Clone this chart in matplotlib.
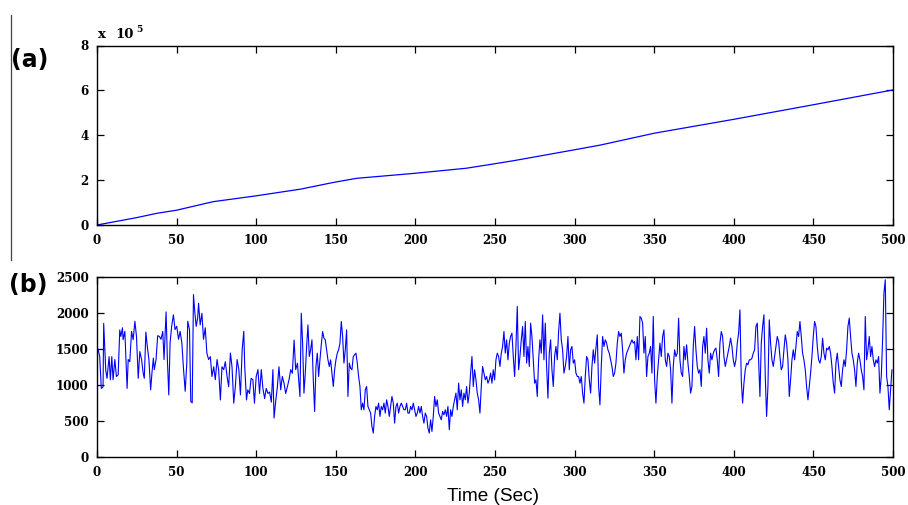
import matplotlib
matplotlib.use("Agg")
import matplotlib.pyplot as plt
from matplotlib.lines import Line2D
import numpy as np

# ---------------- data ----------------
# (a) cumulative curve, read at anchor times
top_time = [0, 25, 37.5, 50, 73, 100, 128, 148, 163, 199, 232, 249, 262, 299, 316,
            350, 400, 450, 500]
top_value = [0, 0.33e5, 0.52e5, 0.66e5, 1.04e5, 1.30e5, 1.60e5, 1.89e5, 2.08e5,
             2.30e5, 2.53e5, 2.72e5, 2.87e5, 3.34e5, 3.56e5, 4.09e5, 4.71e5,
             5.36e5, 6.02e5]

# (b) signal, first part (read at irregular times)
sig_time_a = [0.0, 0.6, 1.7, 2.7, 3.8, 4.2, 5.5, 6.3, 7.6, 8.4,
              9.3, 10.1, 11.2, 12.2, 13.3, 14.3, 15.0, 16.0, 16.4, 17.5,
              18.1, 18.9, 19.6, 20.6, 21.7, 22.7, 23.8, 24.8, 25.9, 26.9,
              28.0, 29.0, 29.7, 30.7, 31.6, 32.6, 33.7, 34.5, 35.4, 36.0,
              37.1, 38.1, 39.2, 40.2, 41.3, 42.1, 43.4, 44.2, 45.1, 45.9,
              46.9, 48.0, 49.0, 50.1, 51.2, 52.2, 53.3, 54.3, 55.4, 56.4,
              57.0, 58.1, 58.9, 59.8, 60.6, 61.5, 62.3, 63.2, 63.8, 64.8,
              65.9, 66.9, 68.0, 69.0, 70.1, 71.2, 72.2, 73.3, 74.3, 75.4,
              76.4, 77.5, 78.5, 79.6, 80.6, 81.7, 82.7, 83.8, 84.8, 85.9,
              86.9, 88.0, 89.1, 90.1, 91.2, 92.2, 92.8, 93.9, 94.7, 95.8,
              96.8, 97.9, 98.9, 100.0, 101.1, 102.1, 103.2, 104.2, 105.3, 106.3,
              107.4, 108.4, 109.5, 110.5, 111.2, 112.2, 113.3, 114.3, 115.4, 116.4,
              117.5, 118.5, 119.6, 120.6, 121.7, 122.7, 123.8, 124.8, 125.9, 126.9]
sig_value_a = [1400, 1500, 1390, 950, 970, 1850, 1200, 1090, 1390, 1070,
               1390, 1070, 1350, 1115, 1140, 1760, 1670, 1790, 1625, 1740,
               1390, 950, 1350, 1320, 1740, 1625, 1880, 1670, 1090, 1460,
               1350, 1160, 1090, 1730, 1530, 1350, 930, 1160, 1370, 1210,
               1350, 1680, 1670, 1630, 1740, 1350, 2010, 1350, 860, 1580,
               1810, 1970, 1765, 1810, 1630, 1740, 1580, 1230, 910, 1300,
               1880, 1765, 770, 750, 2250, 1990, 1810, 1920, 2130, 1830,
               1990, 1630, 1790, 1440, 1350, 1390, 1115, 1250, 1070, 1350,
               1210, 790, 1250, 1210, 1320, 1115, 975, 1440, 1250, 745,
               975, 1350, 1210, 860, 1490, 1740, 1250, 790, 930, 880,
               1090, 1070, 745, 1115, 1210, 880, 1210, 950, 810, 950,
               880, 900, 760, 1210, 540, 760, 975, 1250, 930, 1115,
               1020, 880, 975, 1070, 1210, 1160, 1620, 1210, 1300, 1020]

# (b) signal, remaining part (read at a regular step from t = 127.48 s)
sig_start_b = 127.48
sig_step_b = 0.8375
sig_value_b = [
    838, 1992, 1577, 885, 1162, 1531, 1830, 1392, 1485, 1623,
    1069, 631, 1254, 1438, 1115, 1346, 1554, 1738, 1646, 1623,
    1485, 1346, 1254, 1346, 1162, 977, 1208, 1346, 1438, 1485,
    1577, 1877, 1669, 1300, 1485, 1761, 838, 1300, 1231, 1208,
    1392, 1415, 1438, 1300, 1115, 977, 654, 746, 654, 931,
    977, 700, 654, 608, 423, 331, 562, 700, 654, 746,
    562, 700, 654, 746, 608, 792, 700, 562, 700, 838,
    746, 469, 700, 746, 608, 700, 746, 700, 654, 654,
    746, 608, 608, 700, 654, 746, 654, 562, 608, 700,
    608, 700, 562, 469, 608, 562, 400, 331, 515, 354,
    562, 838, 700, 792, 608, 562, 515, 631, 585, 654,
    562, 700, 377, 654, 562, 700, 792, 885, 654, 1023,
    792, 931, 700, 885, 792, 977, 746, 885, 1162, 1392,
    977, 1208, 1069, 885, 792, 608, 977, 1254, 1162, 1069,
    1115, 1023, 1069, 1162, 1023, 1208, 1069, 1346, 1438,
    1392, 1254, 1438, 1531, 1738, 1438, 1623, 1346, 1577, 1669,
    1715, 1392, 1115, 1531, 2085, 1208, 1392, 1623, 1808, 1392,
    1877, 1300, 1531, 1254, 1854, 1669, 1346, 1023, 1069, 838,
    1346, 1623, 1438, 1969, 1346, 1854, 1254, 815, 1438, 1623,
    1208, 977, 1392, 1531, 1346, 1738, 1992, 1623, 1485, 1162,
    1254, 1392, 1669, 1208, 1485, 1531, 1300, 1346, 1162, 1115,
    1115, 1023, 1115, 885, 746, 1115, 1392, 1346, 1069, 885,
    1254, 1485, 1300, 1508, 1692, 977, 723, 1254, 1669, 1531,
    1623, 1577, 1485, 1438, 1346, 1254, 1115, 1162, 1300, 1577,
    1738, 1669, 1715, 1485, 1162, 1346, 1438, 1485, 1531, 1577,
    1623, 1577, 1600, 1346, 1669, 1346, 1946, 1923, 1854, 1438,
    1669, 1115, 1392, 1438, 1531, 1162, 1946, 1069, 746, 1115,
    1346, 1577, 1392, 1669, 1761, 1346, 1254, 1438, 1392, 1208,
    746, 1254, 1485, 1392, 1438, 1923, 1346, 1162, 1115, 1531,
    1346, 1554, 1300, 1115, 885, 977, 1531, 1808, 1485, 1254,
    1162,
    1208, 977, 1531, 1669, 1438, 1784, 1346, 1162, 1438, 1346,
    1438, 1485, 1508, 1346, 1115, 1577, 1738, 1669, 1392, 1254,
    1346, 1438, 1531, 1646, 1531, 1346, 1254, 1346, 1577, 1715,
    2038, 1069, 746, 1023, 1208, 1300, 1277, 1346, 1346, 1369,
    1438, 1485, 1808, 1854, 1346, 838, 1577, 1808, 1969, 1115,
    562, 977, 1900, 1577, 1346, 1254, 1392, 1531, 1669, 1600,
    1392, 1208, 1254, 1485, 1692, 1577, 1346, 838, 1069, 1346,
    1485, 1346, 1531, 1738, 1669, 1877, 1669, 1438, 1346, 1208,
    977, 792, 977, 1162, 1392, 1669, 1877, 1808, 1531, 1346,
    1300, 1392, 1646, 1438, 1346, 1508, 1485, 1531, 1438, 1254,
    1023, 885, 1300, 1438, 1254, 1069, 977, 1208, 1346, 1254,
    1485, 1808, 1923, 1669, 1438, 1346, 1208, 977, 1300, 1438,
    1346, 1208, 1115, 931, 1946, 1346, 1485, 1669, 1392, 1531,
    1346, 1254, 1346, 1300, 1392, 885, 1115, 1623, 2269, 2454,
    1115, 977, 654, 931, 1208]

x_ticks = [0, 50, 100, 150, 200, 250, 300, 350, 400, 450, 500]
top_y_ticks = [0, 2, 4, 6, 8]
bot_y_ticks = [0, 500, 1000, 1500, 2000, 2500]
x_label = "Time (Sec)"

# ---------------- figure ----------------
sig_time = np.concatenate([np.array(sig_time_a),
                           sig_start_b + sig_step_b * np.arange(len(sig_value_b))])
sig_value = np.concatenate([np.array(sig_value_a), np.array(sig_value_b)])

W, H = 908, 505
fig = plt.figure(figsize=(W / 100, H / 100), dpi=100)

def fx(px):
    return px / W

def fy(py):
    return 1 - py / H

ax1 = fig.add_axes([fx(97), fy(225), fx(893) - fx(97), fy(45.5) - fy(225)])
ax2 = fig.add_axes([fx(97), fy(457), fx(893) - fx(97), fy(276.5) - fy(457)])

tick_font = dict(family="DejaVu Serif", weight="bold", size=8.6)

ax1.plot(top_time, np.array(top_value) / 1e5, color="#0000ff", lw=0.9)
ax1.set_xlim(0, 500)
ax1.set_ylim(0, 8)
ax1.set_yticks(top_y_ticks)

ax2.plot(sig_time, sig_value, color="#0000ff", lw=0.8)
ax2.set_xlim(0, 500)
ax2.set_ylim(0, 2500)
ax2.set_yticks(bot_y_ticks)

for ax in (ax1, ax2):
    ax.set_xticks(x_ticks)
    ax.tick_params(direction="in", top=True, right=True, length=5, width=0.9,
                   colors="black")
    ax.tick_params(axis="x", pad=6.5)
    ax.tick_params(axis="y", pad=6)
    for lab in ax.get_xticklabels() + ax.get_yticklabels():
        lab.set_fontfamily(tick_font["family"])
        lab.set_fontweight(tick_font["weight"])
        lab.set_fontsize(tick_font["size"])
    for s in ax.spines.values():
        s.set_linewidth(1.0)
        s.set_color("black")

# exponent label
fig.text(fx(98), fy(38), "x", ha="left", va="baseline",
         family="DejaVu Serif", weight="bold", size=9.5)
fig.text(fx(115), fy(38), "10", ha="left", va="baseline",
         family="DejaVu Serif", weight="bold", size=9.5)
fig.text(fx(136), fy(32), "5", ha="left", va="baseline",
         family="DejaVu Serif", weight="bold", size=6.5)

# panel labels
fig.text(fx(11), fy(60), "(a)", ha="left", va="center", family="DejaVu Sans",
         weight="bold", size=17)
fig.text(fx(9), fy(285), "(b)", ha="left", va="center", family="DejaVu Sans",
         weight="bold", size=17)

# x label
fig.text(fx(493), fy(501), x_label, ha="center", va="baseline",
         family="Liberation Sans", size=13.7)

# thin vertical rule at the left
fig.add_artist(Line2D([fx(11), fx(11)], [fy(15), fy(260)], color="#444444",
                      lw=0.9, transform=fig.transFigure))

fig.savefig("out.png", dpi=100)
